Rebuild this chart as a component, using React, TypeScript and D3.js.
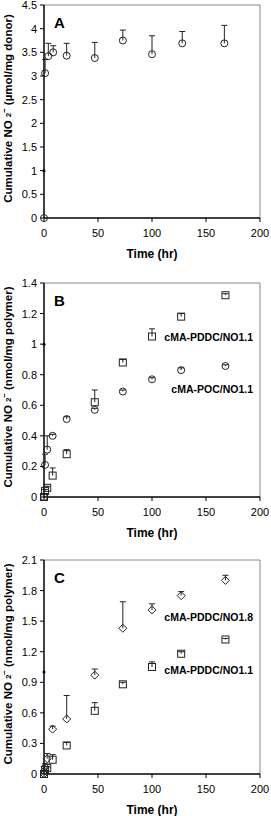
import React from "react";
import * as d3 from "d3";

// time points (hr)
const timeA = [0, 1, 4, 8.5, 21, 47, 73, 100, 128, 167];
const donorNO = [0, 3.06, 3.42, 3.5, 3.43, 3.38, 3.75, 3.46, 3.69, 3.69];
const donorErr = [0, 3.35, 3.69, 3.64, 3.69, 3.71, 3.97, 3.85, 3.94, 4.07];

const timeB = [0, 1, 3, 8, 21, 47, 73, 100, 127, 168];
const pddc11 = [0, 0.04, 0.06, 0.14, 0.28, 0.62, 0.88, 1.05, 1.18, 1.32];
const pddc11Err = [0, 0.05, 0.07, 0.19, 0.31, 0.7, 0.9, 1.1, 1.2, 1.33];
const poc11 = [0, 0.21, 0.31, 0.4, 0.51, 0.57, 0.69, 0.77, 0.83, 0.857];
const poc11Err = [0, 0.28, 0.4, 0.41, 0.525, 0.58, 0.7, 0.78, 0.845, 0.865];

const pddc18 = [0, 0.07, 0.15, 0.44, 0.54, 0.97, 1.43, 1.61, 1.75, 1.9];
const pddc18Err = [0, 0.1, 0.2, 0.47, 0.77, 1.03, 1.69, 1.67, 1.79, 1.95];

const xTicks = [0, 50, 100, 150, 200];
const yTicksA = [0, 0.5, 1, 1.5, 2, 2.5, 3, 3.5, 4, 4.5];
const yTicksB = [0, 0.2, 0.4, 0.6, 0.8, 1, 1.2, 1.4];
const yTicksC = [0, 0.3, 0.6, 0.9, 1.2, 1.5, 1.8, 2.1];

const FONT = "Arial, 'Liberation Sans', sans-serif";
const left = 44, right = 260;

type Series = { t: number[]; v: number[]; e: number[]; shape: string };

const Marker = ({ shape, x, y }: { shape: string; x: number; y: number }) => {
  const st = { fill: "none", stroke: "#222", strokeWidth: 1 };
  if (shape === "square") return <rect x={x - 3.5} y={y - 3.5} width={7} height={7} {...st} />;
  if (shape === "diamond") return <path d={`M${x},${y - 4}L${x + 4},${y}L${x},${y + 4}L${x - 4},${y}Z`} {...st} />;
  return <circle cx={x} cy={y} r={3.5} {...st} />;
};

const Panel = ({ top, bottom, ymax, yTicks, letter, unit, series, labels }: any) => {
  const x = d3.scaleLinear().domain([0, 200]).range([left, right]);
  const y = d3.scaleLinear().domain([0, ymax]).range([bottom, top]);
  const fmt = (d: number) => String(d);
  const mid = (top + bottom) / 2;
  return (
    <g fontFamily={FONT}>
      <line x1={left} x2={right} y1={top} y2={top} stroke="#888" />
      <line x1={right} x2={right} y1={top} y2={bottom} stroke="#888" />
      {yTicks.map((t: number) => (
        <g key={t}>
          <line x1={left - 4} x2={left} y1={y(t)} y2={y(t)} stroke="#000" />
          <text x={left - 7} y={y(t) + 4} textAnchor="end" fontSize={11}>{fmt(t)}</text>
        </g>
      ))}
      {xTicks.map((t) => (
        <g key={t}>
          <line x1={x(t)} x2={x(t)} y1={bottom} y2={bottom + 4} stroke="#000" />
          <text x={x(t)} y={bottom + 19} textAnchor="middle" fontSize={11}>{t}</text>
        </g>
      ))}
      <line x1={left} x2={right} y1={bottom} y2={bottom} stroke="#000" strokeWidth={1.3} />
      <line x1={left} x2={left} y1={top} y2={bottom} stroke="#000" strokeWidth={1.5} />
      <circle cx={x(0)} cy={y(1)} r={1.5} fill="#000" />
      {series.map((s: Series, si: number) => (
        <g key={si}>
          {s.t.map((t, i) => (
            <g key={i}>
              {s.e[i] > s.v[i] && (
                <>
                  <line x1={x(t)} x2={x(t)} y1={y(s.v[i])} y2={y(s.e[i])} stroke="#222" />
                  <line x1={x(t) - 3} x2={x(t) + 3} y1={y(s.e[i])} y2={y(s.e[i])} stroke="#222" />
                </>
              )}
              <Marker shape={s.shape} x={x(t)} y={y(s.v[i])} />
            </g>
          ))}
        </g>
      ))}
      {labels.map((l: any, i: number) => (
        <text key={i} x={253} y={l.y} textAnchor="end" fontSize={10.5} fontWeight="bold">{l.text}</text>
      ))}
      <text x={54} y={top + 23} fontSize={15} fontWeight="bold">{letter}</text>
      <text x={152} y={bottom + 40} textAnchor="middle" fontSize={12} fontWeight="bold">Time (hr)</text>
      <text transform={`translate(12,${mid - 3}) rotate(-90)`} textAnchor="middle" fontSize={11.5} fontWeight="bold">
        Cumulative NO<tspan dx={3} dy={-1} fontSize={8}>2</tspan>
        <tspan dy={-4} fontSize={8}>−</tspan>
        <tspan dx={3} dy={5}>{unit}</tspan>
      </text>
    </g>
  );
};

export default function App() {
  return (
    <svg width={271} height={816} style={{ position: "absolute", left: 0, top: 0, background: "#fff" }}>
      <Panel top={5} bottom={218} ymax={4.5} yTicks={yTicksA} letter="A" unit="(µmol/mg donor)"
        series={[{ t: timeA, v: donorNO, e: donorErr, shape: "circle" }]} labels={[]} />
      <Panel top={283} bottom={497} ymax={1.4} yTicks={yTicksB} letter="B" unit="(nmol/mg polymer)"
        series={[
          { t: timeB, v: poc11, e: poc11Err, shape: "circle" },
          { t: timeB, v: pddc11, e: pddc11Err, shape: "square" },
        ]}
        labels={[{ text: "cMA-PDDC/NO1.1", y: 341 }, { text: "cMA-POC/NO1.1", y: 393 }]} />
      <Panel top={560} bottom={774} ymax={2.1} yTicks={yTicksC} letter="C" unit="(nmol/mg polymer)"
        series={[
          { t: timeB, v: pddc18, e: pddc18Err, shape: "diamond" },
          { t: timeB, v: pddc11, e: pddc11Err, shape: "square" },
        ]}
        labels={[{ text: "cMA-PDDC/NO1.8", y: 621 }, { text: "cMA-PDDC/NO1.1", y: 674 }]} />
    </svg>
  );
}
